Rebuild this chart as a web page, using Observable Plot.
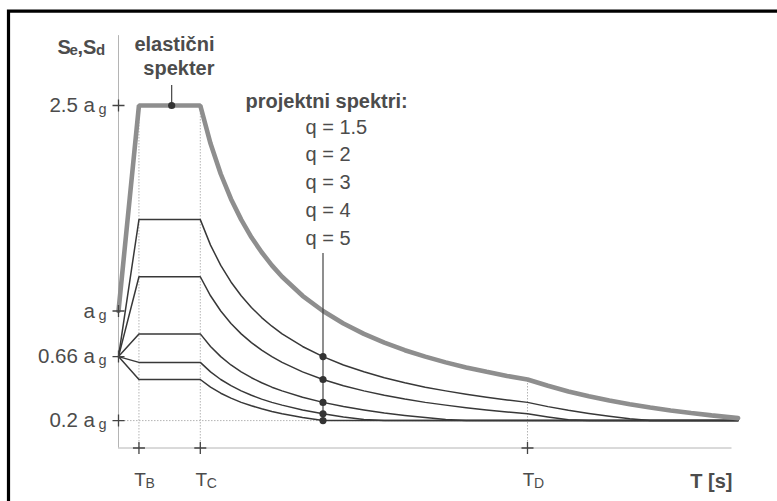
<!DOCTYPE html>
<html>
<head>
<meta charset="utf-8">
<script src="https://cdn.jsdelivr.net/npm/d3@7"></script>
<script src="https://cdn.jsdelivr.net/npm/@observablehq/plot@0.6"></script>
<style>
  html, body { margin: 0; padding: 0; background: #fff; }
</style>
</head>
<body>
<div id="chart"></div>
<script>
// ---- data (values in units of a_g, periods in s) ----
const periods = [0, 0.1, 0.4, 0.45, 0.5, 0.55, 0.6, 0.65, 0.7, 0.75, 0.8, 0.9, 1.0, 1.1, 1.2, 1.3, 1.4, 1.5, 1.6, 1.7, 1.8, 1.9, 2.0, 2.1, 2.2, 2.3, 2.4, 2.5, 2.6, 2.7, 2.8, 2.9, 3.03];
const elastic = [1.0, 2.5, 2.5, 2.222, 2.0, 1.818, 1.667, 1.538, 1.429, 1.333, 1.25, 1.111, 1.0, 0.909, 0.833, 0.769, 0.714, 0.667, 0.625, 0.588, 0.556, 0.526, 0.5, 0.454, 0.413, 0.378, 0.347, 0.32, 0.296, 0.274, 0.255, 0.238, 0.218];
const q15 = [0.667, 1.667, 1.667, 1.481, 1.333, 1.212, 1.111, 1.026, 0.952, 0.889, 0.833, 0.741, 0.667, 0.606, 0.556, 0.513, 0.476, 0.444, 0.417, 0.392, 0.37, 0.351, 0.333, 0.302, 0.275, 0.252, 0.231, 0.213, 0.2, 0.2, 0.2, 0.2, 0.2];
const q2 = [0.667, 1.25, 1.25, 1.111, 1.0, 0.909, 0.833, 0.769, 0.714, 0.667, 0.625, 0.556, 0.5, 0.455, 0.417, 0.385, 0.357, 0.333, 0.313, 0.294, 0.278, 0.263, 0.25, 0.227, 0.207, 0.2, 0.2, 0.2, 0.2, 0.2, 0.2, 0.2, 0.2];
const q3 = [0.667, 0.833, 0.833, 0.741, 0.667, 0.606, 0.556, 0.513, 0.476, 0.444, 0.417, 0.37, 0.333, 0.303, 0.278, 0.256, 0.238, 0.222, 0.208, 0.2, 0.2, 0.2, 0.2, 0.2, 0.2, 0.2, 0.2, 0.2, 0.2, 0.2, 0.2, 0.2, 0.2];
const q4 = [0.667, 0.625, 0.625, 0.556, 0.5, 0.455, 0.417, 0.385, 0.357, 0.333, 0.313, 0.278, 0.25, 0.227, 0.208, 0.2, 0.2, 0.2, 0.2, 0.2, 0.2, 0.2, 0.2, 0.2, 0.2, 0.2, 0.2, 0.2, 0.2, 0.2, 0.2, 0.2, 0.2];
const q5 = [0.667, 0.5, 0.5, 0.444, 0.4, 0.364, 0.333, 0.308, 0.286, 0.267, 0.25, 0.222, 0.2, 0.2, 0.2, 0.2, 0.2, 0.2, 0.2, 0.2, 0.2, 0.2, 0.2, 0.2, 0.2, 0.2, 0.2, 0.2, 0.2, 0.2, 0.2, 0.2, 0.2];

const qNames = ["q = 1.5", "q = 2", "q = 3", "q = 4", "q = 5"];
const designSeries = [q15, q2, q3, q4, q5];

const yTickValues = [2.5, 1, 0.667, 0.2];
const yTickLabels = ["2.5 a", "a", "0.66 a", "0.2 a"];
const xTickValues = [0.1, 0.4, 2.0];          // T_B, T_C, T_D
const xTickSubs = ["B", "C", "D"];
const floorValue = 0.2;                        // 0.2 a_g lower bound
const elasticMarkerT = 0.26;                   // dot on elastic plateau
const designMarkerT = 1.0;                     // dots on design spectra
const tMax = 3.0;

// ---- tidy rows built from the arrays ----
const elasticRows = periods.map((T, i) => ({T, v: elastic[i]}));
const designRows = designSeries.flatMap((s, k) => periods.map((T, i) => ({T, v: s[i], q: qNames[k]})));
const markerRows = designRows.filter(d => d.T === designMarkerT);

// ---- styling ----
const ink = "#4c4c4c";
const axisGray = "#b4b4b4";
const font = "Liberation Sans, Arial, Helvetica, sans-serif";

const plusSymbol = {
  draw(ctx, size) {
    const r = Math.sqrt(size / Math.PI);
    ctx.moveTo(-r, 0); ctx.lineTo(r, 0);
    ctx.moveTo(0, -r); ctx.lineTo(0, r);
  }
};

function label(text, x, y, dx, dy, o = {}) {
  return Plot.text([text], {
    x: () => x, y: () => y, text: d => d, dx, dy,
    fill: ink, fontSize: o.size ?? 20, fontWeight: o.weight ?? "normal",
    textAnchor: o.anchor ?? "start", lineAnchor: "bottom"
  });
}

const border = () => {
  const g = d3.create("svg:g");
  g.append("path")
    .attr("d", "M8.5,501V11.2H777")
    .attr("fill", "none").attr("stroke", "#000").attr("stroke-width", 3.2);
  return g.node();
};

const chart = Plot.plot({
  width: 777,
  height: 501,
  marginLeft: 0, marginRight: 0, marginTop: 0, marginBottom: 0,
  x: {domain: [0, tMax], range: [118, 731.5], axis: null},
  y: {domain: [0, 2.5], range: [447.5, 105], axis: null},
  style: {fontFamily: font, background: "#fff"},
  marks: [
    border,
    // axes
    Plot.ruleX([0], {y1: 0, y2: 3.01, stroke: axisGray, strokeWidth: 1}),
    Plot.ruleY([0], {x1: 0, x2: tMax, stroke: axisGray, strokeWidth: 1}),
    // dotted guide lines
    Plot.ruleX(xTickValues, {
      y1: 0, y2: (d) => elastic[periods.indexOf(d)],
      stroke: axisGray, strokeWidth: 1, strokeDasharray: "1.5,1.5"
    }),
    Plot.ruleY([floorValue], {x1: 0, x2: periods[periods.length - 1], stroke: axisGray, strokeWidth: 1, strokeDasharray: "1.5,1.5"}),
    // design spectra
    Plot.line(designRows, {x: "T", y: "v", z: "q", stroke: "#383838", strokeWidth: 1.5}),
    // elastic spectrum
    Plot.line(elasticRows, {x: "T", y: "v", stroke: "#8e8e8e", strokeWidth: 4.6, strokeLinejoin: "miter"}),
    // leader lines
    Plot.ruleX([designMarkerT], {y1: floorValue, y2: 1.42, stroke: "#444", strokeWidth: 1.2}),
    Plot.ruleX([elasticMarkerT], {y1: 2.5, y2: 2.646, stroke: "#444", strokeWidth: 1.2}),
    // marker dots
    Plot.dot(markerRows, {x: "T", y: "v", r: 3.6, fill: "#333", stroke: "none"}),
    Plot.dot([{T: elasticMarkerT, v: 2.5}], {x: "T", y: "v", r: 3.6, fill: "#333", stroke: "none"}),
    // "+" ticks
    Plot.dot(yTickValues, {x: () => 0, y: d => d, symbol: plusSymbol, r: 6, stroke: "#444", strokeWidth: 1.3, fill: "none"}),
    Plot.dot(xTickValues, {x: d => d, y: () => 0, symbol: plusSymbol, r: 6, stroke: "#444", strokeWidth: 1.3, fill: "none"}),
    // y tick labels
    Plot.text(yTickValues, {x: () => 0, y: d => d, text: (d, i) => yTickLabels[i], textAnchor: "end", lineAnchor: "bottom", dx: -23.5, dy: 6.5, fontSize: 20.5, fill: ink}),
    Plot.text(yTickValues, {x: () => 0, y: d => d, text: () => "g", textAnchor: "start", lineAnchor: "bottom", dx: -20, dy: 8.5, fontSize: 14.5, fill: ink}),
    // x tick labels
    Plot.text(xTickValues, {x: d => d, y: () => 0, text: () => "T", textAnchor: "middle", lineAnchor: "bottom", dx: 1, dy: 37.5, fontSize: 19, fill: ink}),
    Plot.text(xTickValues, {x: d => d, y: () => 0, text: (d, i) => xTickSubs[i], textAnchor: "start", lineAnchor: "bottom", dx: 6.5, dy: 39.5, fontSize: 14, fill: ink}),
    label("T [s]", tMax, 0, 0.5, 39.5, {weight: "bold", anchor: "end"}),
    // axis title S_e,S_d
    label("S", 0, 2.5, -61, -52, {weight: "bold"}),
    label("e", 0, 2.5, -49, -51, {weight: "bold", size: 15}),
    label(",S", 0, 2.5, -41, -52, {weight: "bold"}),
    label("d", 0, 2.5, -22.5, -51, {weight: "bold", size: 15}),
    // elastic spectrum label
    label("elastični", elasticMarkerT, 2.5, 42.8, -55, {weight: "bold", anchor: "end"}),
    label("spekter", elasticMarkerT, 2.5, 42.8, -31, {weight: "bold", anchor: "end"}),
    // design spectra legend
    label("projektni spektri:", designMarkerT, 2.5, -77.5, 2, {weight: "bold"}),
    ...qNames.map((t, i) => label(t, designMarkerT, 2.5, -17.5, 28 + 27.8 * i))
  ]
});

document.getElementById("chart").appendChild(chart);
</script>
</body>
</html>
